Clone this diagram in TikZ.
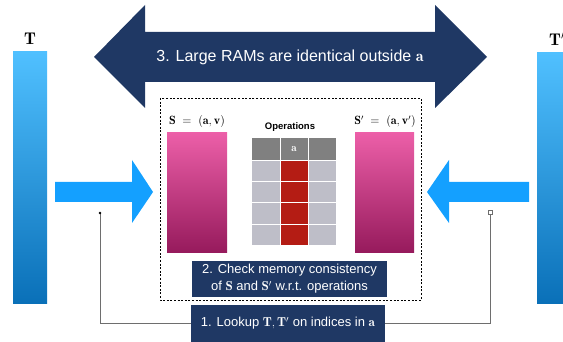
\documentclass[tikz,border=0pt]{standalone}
\usepackage{amsmath}
\usepackage{fontspec}
\usepackage{xcolor}
\usepackage{tikz}
\newfontfamily\arialfont{Liberation Sans}
\definecolor{navyblue}{RGB}{31,56,100}
\definecolor{arrowblue}{RGB}{20,160,255}
\definecolor{bartop}{RGB}{80,192,255}
\definecolor{barbottom}{RGB}{10,112,184}
\definecolor{pinktop}{RGB}{236,95,168}
\definecolor{pinkbottom}{RGB}{150,26,92}
\definecolor{cellgray}{RGB}{190,190,200}
\definecolor{headgray}{RGB}{128,128,128}
\definecolor{cellred}{RGB}{180,28,20}
\definecolor{linegray}{RGB}{110,110,110}

\begin{document}
\begin{tikzpicture}[x=1pt,y=-1pt,
    stepbox/.style={fill=navyblue, text=white, align=center, inner sep=0pt,
      font=\arialfont\fontsize{13}{17}\selectfont},
    memlabel/.style={font=\fontsize{12}{14}\selectfont},
    tapelabel/.style={font=\fontsize{17}{20}\selectfont}]
            \useasboundingbox (0,0) rectangle (563,342);

            % Big tapes T and T'
            \shade[top color=bartop, bottom color=barbottom] (13,52) rectangle (47,303);
            \shade[top color=bartop, bottom color=barbottom] (537,53) rectangle (563,303);
            \node[tapelabel] (tl) at (30,39) {$\mathbf{T}$};
            \node[tapelabel] (tr) at (557,39) {$\mathbf{T'}$};

            % Double arrow
            \fill[navyblue] (94,57) -- (145,5) -- (145,32) -- (435,32) -- (435,5) -- (487,57)
                -- (435,108) -- (435,82) -- (145,82) -- (145,108) -- cycle;
            \node[white, font=\arialfont\fontsize{16}{19}\selectfont] (big) at (290,57)
                {3. Large RAMs are identical outside $\mathbf{a}$};

            % Side arrows
            \fill[arrowblue] (55,182) -- (132,182) -- (132,160) -- (153,192) -- (132,223)
                -- (132,202) -- (55,202) -- cycle;
            \fill[arrowblue] (529,182) -- (449,182) -- (449,160) -- (427,192) -- (449,223)
                -- (449,202) -- (529,202) -- cycle;

            % Dashed frame
            \draw[line width=0.9pt, dash pattern=on 2pt off 1.6pt] (160,98) rectangle (421,300);

            % Small RAMs S and S'
            \shade[top color=pinktop, bottom color=pinkbottom] (167,133) rectangle (227,253);
            \shade[top color=pinktop, bottom color=pinkbottom] (355,133) rectangle (414,253);
            \node[memlabel] (sl) at (197,122) {$\mathbf{S}\;=\;(\mathbf{a},\mathbf{v})$};
            \node[memlabel] (sr) at (385,122) {$\mathbf{S}'\;=\;(\mathbf{a},\mathbf{v}')$};

            % Operations table
            \node[font=\arialfont\bfseries\fontsize{9.5}{11}\selectfont] (ops) at (290,127) {Operations};
            \fill[headgray] (252,138) rectangle (336,160);
            \foreach \r in {0,...,3}
              \foreach \c in {0,1,2}
                \fill[cellgray] (252+28*\c,160+21.25*\r) rectangle ++(28,21.25);
            \fill[cellred] (280,160) rectangle (308,245);
            \foreach \r in {1,...,3}
              \draw[white, line width=0.4pt] (252,160+21.25*\r) -- (336,160+21.25*\r);
            \draw[white, line width=0.4pt] (252,160) -- (336,160);
            \draw[white, line width=0.4pt] (280,138) -- (280,245);
            \draw[white, line width=0.4pt] (308,138) -- (308,245);
            \node[white, font=\fontsize{11}{12}\selectfont] (hd) at (294,149) {$\mathbf{a}$};

            % Step boxes
            \node[stepbox, minimum width=195pt, minimum height=36pt] (check) at (289.5,279)
                {2. Check memory consistency\\of $\mathbf{S}$ and $\mathbf{S}'$ w.r.t. operations};
            \node[stepbox, minimum width=194pt, minimum height=37pt] (lookup) at (288,323.5)
                {1. Lookup $\mathbf{T},\mathbf{T}'$ on indices in $\mathbf{a}$};

            % Lookup connectors
            \coordinate (lend) at (100,213);
            \coordinate (rend) at (490,212);
            \draw[linegray, line width=0.8pt] (lookup.west) -| (lend);
            \draw[linegray, line width=0.8pt] (lookup.east) -| (rend);
            \fill[black] (lend) circle (1.3);
            \draw[linegray, fill=white, line width=0.5pt, shift={(rend)}] (-1.8,-1.8) rectangle (1.8,1.8);
        \end{tikzpicture}
\end{document}
